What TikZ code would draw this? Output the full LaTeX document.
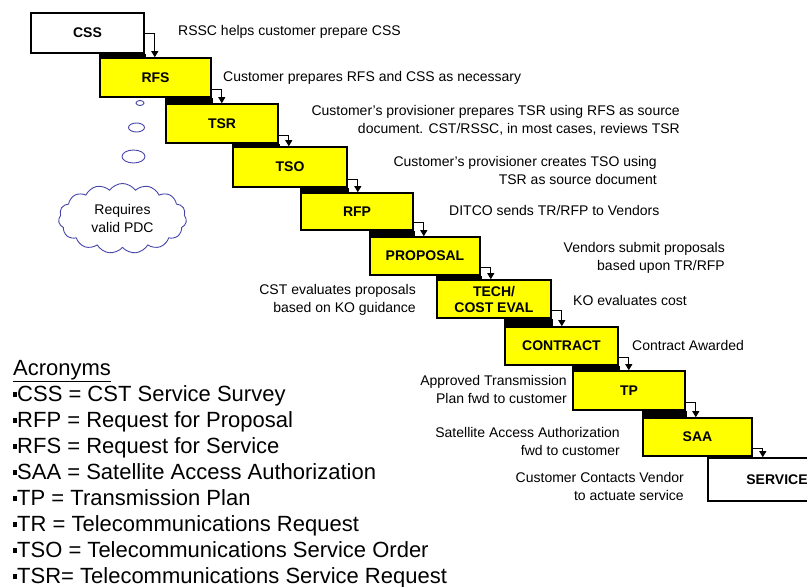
\documentclass[tikz,border=0pt]{standalone}
\usepackage{fontspec}
\setmainfont{Liberation Sans}
\usetikzlibrary{arrows.meta,shapes.symbols,shapes.geometric}
\definecolor{stepyellow}{RGB}{255,255,0}
\definecolor{cloudblue}{RGB}{70,70,170}
\newcommand\sqbul{\rule[4.5pt]{4pt}{5pt}}
\tikzset{
  stepbox/.style={draw=black, line width=1.6pt, fill=stepyellow, inner sep=0pt,
    font=\fontsize{14}{16}\selectfont\bfseries, align=center},
  whitebox/.style={stepbox, fill=white},
  strip/.style={fill=black},
  conn/.style={draw=black, line width=0.9pt, -{Triangle[width=7pt,length=6pt]}},
  note/.style={inner sep=0pt, font=\fontsize{14}{18}\selectfont},
  notel/.style={note, anchor=base west},
  noter/.style={note, anchor=east, align=right},
  acr/.style={inner sep=0pt, anchor=base west, font=\fontsize{22}{26}\selectfont},
  bubble/.style={draw=cloudblue, line width=0.9pt, ellipse, inner sep=0pt},
}
\begin{document}
\begin{tikzpicture}[x=1pt,y=-1pt]
\useasboundingbox (0,0) rectangle (807,587);
\clip (0,0) rectangle (807,587);
% boxes
\node[whitebox, minimum width=113pt, minimum height=40pt] (css) at (87.5,33) {CSS};
\node[stepbox, minimum width=111pt, minimum height=39pt] (rfs) at (155.5,77.5) {RFS};
\node[stepbox, minimum width=112pt, minimum height=39pt] (tsr) at (222,123.5) {TSR};
\node[stepbox, minimum width=114pt, minimum height=40pt] (tso) at (290,167) {TSO};
\node[stepbox, minimum width=112pt, minimum height=37pt] (rfp) at (357,211.5) {RFP};
\node[stepbox, minimum width=110pt, minimum height=38pt] (prop) at (425,256) {PROPOSAL};
\node[stepbox, minimum width=114pt, minimum height=38pt] (tech) at (494,299) {TECH/\\COST EVAL};
\node[stepbox, minimum width=113pt, minimum height=38pt] (contr) at (561.5,346) {CONTRACT};
\node[stepbox, minimum width=112pt, minimum height=39pt] (tp) at (629,390.5) {TP};
\node[stepbox, minimum width=109pt, minimum height=38pt] (saa) at (697.5,437) {SAA};
\node[whitebox, minimum width=138pt, minimum height=43pt] (serv) at (777,479.5) {SERVICE};
% black strips between steps
\foreach \a/\b in {css/rfs,rfs/tsr,tsr/tso,tso/rfp,rfp/prop,prop/tech,tech/contr,contr/tp,tp/saa,saa/serv}{
  \fill[strip] (\b.north west) rectangle ([xshift=1pt]\a.south east);
}
% connectors
\draw[conn] (css.east) -| ([xshift=10pt]css.east |- rfs.north);
\foreach \a/\b in {rfs/tsr,tsr/tso,tso/rfp,rfp/prop,prop/tech,tech/contr,contr/tp,tp/saa,saa/serv}{
  \draw[conn] ([yshift=8pt]\a.south east) -| ([xshift=10pt]\a.south east |- \b.north);
}
% notes
\node[notel] (n1) at (178,35) {RSSC helps customer prepare CSS};
\node[notel] (n2) at (223,81) {Customer prepares RFS and CSS as necessary};
\node[noter] (n3) at (680,120) {Customer's provisioner prepares TSR using RFS as source\\document. CST/RSSC, in most cases, reviews TSR};
\node[noter] (n4) at (657,170) {Customer's provisioner creates TSO using\\TSR as source document};
\node[notel] (n5) at (449,215) {DITCO sends TR/RFP to Vendors};
\node[noter] (n6) at (725,258) {Vendors submit proposals\\based upon TR/RFP};
\node[noter] (n7) at (416,300) {CST evaluates proposals\\based on KO guidance};
\node[notel] (n8) at (573,305) {KO evaluates cost};
\node[notel] (n9) at (632,350) {Contract Awarded};
\node[noter] (n10) at (567,389) {Approved Transmission\\Plan fwd to customer};
\node[noter] (n11) at (620,441) {Satellite Access Authorization\\fwd to customer};
\node[noter] (n12) at (684,486) {Customer Contacts Vendor\\to actuate service};
% thought bubbles and cloud
\node[bubble, minimum width=8pt, minimum height=5pt] (b1) at (140,103) {};
\node[bubble, minimum width=16pt, minimum height=9pt] (b2) at (136.5,127.5) {};
\node[bubble, minimum width=23pt, minimum height=13pt] (b3) at (133.5,156.5) {};
\node[cloud, draw=cloudblue, line width=0.9pt, cloud puffs=15, cloud puff arc=110, aspect=1.9,
  minimum width=128pt, minimum height=70pt, inner sep=0pt, align=center,
  font=\fontsize{14}{18}\selectfont] (pdc) at (122.5,218.5) {Requires\\valid PDC};
% acronyms
\node[acr] (a0) at (13,375) {\underline{Acronyms}};
\node[acr] (a1) at (13,401) {\sqbul CSS = CST Service Survey};
\node[acr] (a2) at (13,427) {\sqbul RFP = Request for Proposal};
\node[acr] (a3) at (13,453) {\sqbul RFS = Request for Service};
\node[acr] (a4) at (13,479) {\sqbul SAA = Satellite Access Authorization};
\node[acr] (a5) at (13,505) {\sqbul TP = Transmission Plan};
\node[acr] (a6) at (13,531) {\sqbul TR = Telecommunications Request};
\node[acr] (a7) at (13,557) {\sqbul TSO = Telecommunications Service Order};
\node[acr] (a8) at (13,583) {\sqbul TSR= Telecommunications Service Request};
\end{tikzpicture}
\end{document}
